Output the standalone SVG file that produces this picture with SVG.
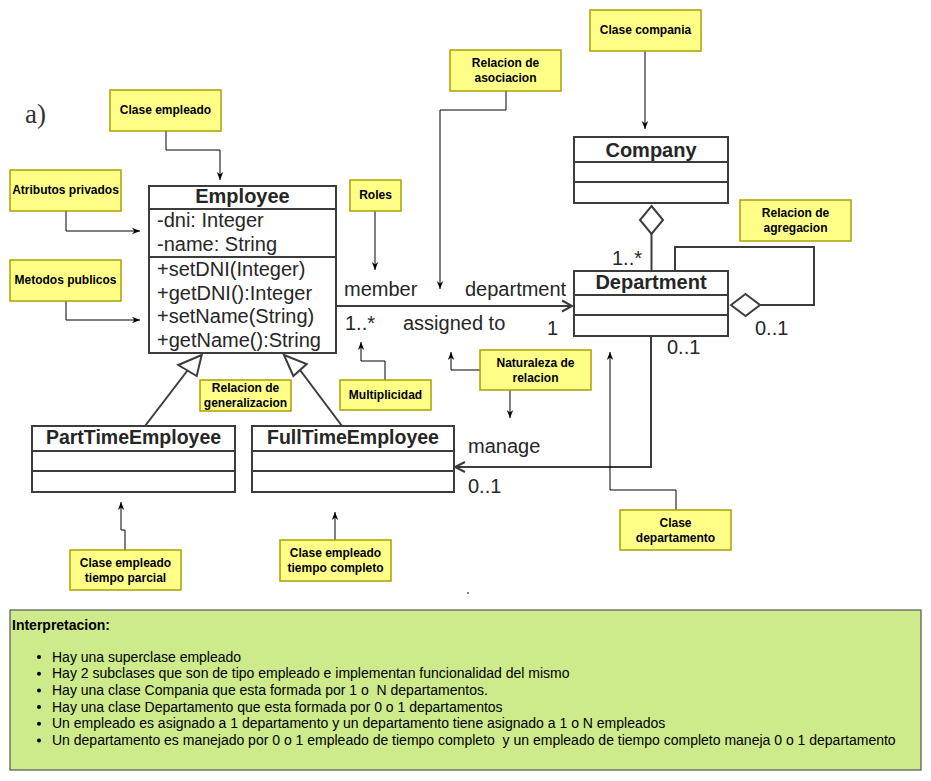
<svg xmlns="http://www.w3.org/2000/svg" width="931" height="781" viewBox="0 0 931 781">
<style>
.uml{fill:#fff;stroke:#3c3c3c;stroke-width:2}
.ul{stroke:#3c3c3c;stroke-width:2;fill:none}
.dia{stroke:#3c3c3c;stroke-width:2;fill:#fff}
.ut{font-family:"Liberation Sans",Arial,sans-serif;font-size:20px;fill:#262626}
.ub{font-weight:bold;text-anchor:middle}
.note rect{fill:#ffff88;stroke:#aaa000;stroke-width:1.5}
.note text{font-family:"Liberation Sans",Arial,sans-serif;font-size:12px;font-weight:bold;fill:#000;text-anchor:middle}
.ann{stroke:#000;stroke-width:1;fill:none;marker-end:url(#arr)}
.it{font-family:"Liberation Sans",Arial,sans-serif;font-size:14px;fill:#000}
</style>
<defs>
<marker id="arr" viewBox="0 0 10 10" refX="10" refY="5" markerWidth="8" markerHeight="8" markerUnits="userSpaceOnUse" orient="auto">
<path d="M0,1 L10,5 L0,9 L3,5 Z" fill="#000"/>
</marker>
</defs>
<rect width="931" height="781" fill="#fff"/>
<text x="25" y="123" style="font-family:'Liberation Serif','Times New Roman',serif;font-size:27px;fill:#333">a)</text>

<g id="employee">
<rect class="uml" x="149" y="186" width="187" height="167"/>
<path class="ul" d="M149,209 H336 M149,257 H336"/>
<text class="ut ub" x="242.5" y="203">Employee</text>
<text class="ut" x="157" y="227">-dni: Integer</text>
<text class="ut" x="157" y="251">-name: String</text>
<text class="ut" x="157" y="276">+setDNI(Integer)</text>
<text class="ut" x="157" y="299.5">+getDNI():Integer</text>
<text class="ut" x="157" y="323">+setName(String)</text>
<text class="ut" x="157" y="346.5">+getName():String</text>
</g>
<g id="company">
<rect class="uml" x="574" y="137" width="154" height="66"/>
<path class="ul" d="M574,162 H728 M574,182 H728"/>
<text class="ut ub" x="651" y="157">Company</text>
</g>
<g id="department">
<rect class="uml" x="574" y="271" width="154" height="65"/>
<path class="ul" d="M574,295 H728 M574,315 H728"/>
<text class="ut ub" x="651" y="289">Department</text>
</g>
<g id="parttime">
<rect class="uml" x="32" y="426" width="203" height="66"/>
<path class="ul" d="M32,451 H235 M32,471 H235"/>
<text class="ut ub" x="133.5" y="444" style="font-size:19.5px">PartTimeEmployee</text>
</g>
<g id="fulltime">
<rect class="uml" x="252" y="426" width="202" height="66"/>
<path class="ul" d="M252,451 H454 M252,471 H454"/>
<text class="ut ub" x="353" y="444" style="font-size:19.5px">FullTimeEmployee</text>
</g>

<g id="connectors">
<path class="ul" d="M336,306 H572"/>
<path class="ul" d="M562,300.5 L572,306 L562,311.5"/>
<path class="ul" d="M651.5,234 V271"/>
<path class="dia" d="M651.5,206 L663,220 L651.5,234 L640,220 Z"/>
<path class="ul" d="M675,271 V247 H814 V305 H760"/>
<path class="dia" d="M731,305 L745.5,294 L760,305 L745.5,316 Z"/>
<path class="ul" d="M651,336 V467 H455"/>
<path class="ul" d="M465,462 L455,467 L465,472"/>
<path class="ul" d="M145,426 L187.5,370.5"/>
<path class="dia" d="M201.7,355 L178.3,365 L196.7,376 Z"/>
<path class="ul" d="M342,426 L300,370"/>
<path class="dia" d="M284,355 L306.7,364 L293.3,376 Z"/>
<text class="ut" x="344" y="296">member</text>
<text class="ut" x="465" y="296">department</text>
<text class="ut" x="345" y="330">1..*</text>
<text class="ut" x="403" y="330">assigned to</text>
<text class="ut" x="547" y="335">1</text>
<text class="ut" x="612" y="265">1..*</text>
<text class="ut" x="755" y="335">0..1</text>
<text class="ut" x="667" y="354">0..1</text>
<text class="ut" x="468" y="453">manage</text>
<text class="ut" x="468" y="493">0..1</text>
</g>

<g id="annotation-arrows">
<path class="ann" d="M166,131 V150 H220 V180"/>
<path class="ann" d="M66,211 V231 H140"/>
<path class="ann" d="M66,301 V320 H140"/>
<path class="ann" d="M375,211 V270"/>
<path class="ann" d="M506,91 V110 H440 V289"/>
<path class="ann" d="M645,51 V129"/>
<path class="ann" d="M385,380 V361 H361 V342"/>
<path class="ann" d="M480,370 H451 V352"/>
<path class="ann" d="M510,390 V418"/>
<path class="ann" d="M125,550 V530 H121 V502"/>
<path class="ann" d="M335,540 V512"/>
<path class="ann" d="M676,510 V490 H610 V352"/>
</g>

<g id="note-clase-empleado" class="note"><rect x="110" y="90" width="111" height="41"/><text x="165.5" y="114">Clase empleado</text></g>
<g id="note-atributos" class="note"><rect x="10" y="170" width="111" height="41"/><text x="65.5" y="194">Atributos privados</text></g>
<g id="note-metodos" class="note"><rect x="10" y="260" width="111" height="41"/><text x="65.5" y="284">Metodos publicos</text></g>
<g id="note-roles" class="note"><rect x="350" y="180" width="51" height="31"/><text x="375.5" y="199">Roles</text></g>
<g id="note-asociacion" class="note"><rect x="450" y="50" width="111" height="41"/><text x="505.5" y="67">Relacion de</text><text x="505.5" y="82">asociacion</text></g>
<g id="note-compania" class="note"><rect x="590" y="10" width="111" height="41"/><text x="645.5" y="34">Clase compania</text></g>
<g id="note-agregacion" class="note"><rect x="740" y="200" width="111" height="41"/><text x="795.5" y="216.5">Relacion de</text><text x="795.5" y="231.5">agregacion</text></g>
<g id="note-multiplicidad" class="note"><rect x="340" y="380" width="91" height="30"/><text x="385.5" y="399">Multiplicidad</text></g>
<g id="note-naturaleza" class="note"><rect x="480" y="350" width="111" height="40"/><text x="535.5" y="366.5">Naturaleza de</text><text x="535.5" y="381.5">relacion</text></g>
<g id="note-generalizacion" class="note"><rect x="200" y="380" width="91" height="31"/><text x="245.5" y="392">Relacion de</text><text x="245.5" y="407">generalizacion</text></g>
<g id="note-parcial" class="note"><rect x="70" y="550" width="111" height="40"/><text x="125.5" y="566.5">Clase empleado</text><text x="125.5" y="581.5">tiempo parcial</text></g>
<g id="note-completo" class="note"><rect x="280" y="540" width="111" height="41"/><text x="335.5" y="556.5">Clase empleado</text><text x="335.5" y="571.5">tiempo completo</text></g>
<g id="note-departamento" class="note"><rect x="620" y="510" width="111" height="40"/><text x="675.5" y="526.5">Clase</text><text x="675.5" y="541.5">departamento</text></g>

<circle cx="468" cy="593" r="1" fill="#555"/>

<g id="interpretacion">
<rect x="10" y="610" width="911" height="160" fill="#cdeb8b" stroke="#36393d" stroke-width="1"/>
<text class="it" x="12" y="630" font-weight="bold">Interpretacion:</text>
<g fill="#000">
<circle cx="39" cy="657" r="2"/><circle cx="39" cy="673.7" r="2"/><circle cx="39" cy="690.4" r="2"/><circle cx="39" cy="707.1" r="2"/><circle cx="39" cy="723.8" r="2"/><circle cx="39" cy="740.5" r="2"/>
</g>
<text class="it" x="52" y="661.5">Hay una superclase empleado</text>
<text class="it" x="52" y="678.2">Hay 2 subclases que son de tipo empleado e implementan funcionalidad del mismo</text>
<text class="it" x="52" y="694.9" xml:space="preserve">Hay una clase Compania que esta formada por 1 o  N departamentos.</text>
<text class="it" x="52" y="711.6">Hay una clase Departamento que esta formada por 0 o 1 departamentos</text>
<text class="it" x="52" y="728.3">Un empleado es asignado a 1 departamento y un departamento tiene asignado a 1 o N empleados</text>
<text class="it" x="52" y="745" xml:space="preserve">Un departamento es manejado por 0 o 1 empleado de tiempo completo  y un empleado de tiempo completo maneja 0 o 1 departamento</text>
</g>
</svg>
